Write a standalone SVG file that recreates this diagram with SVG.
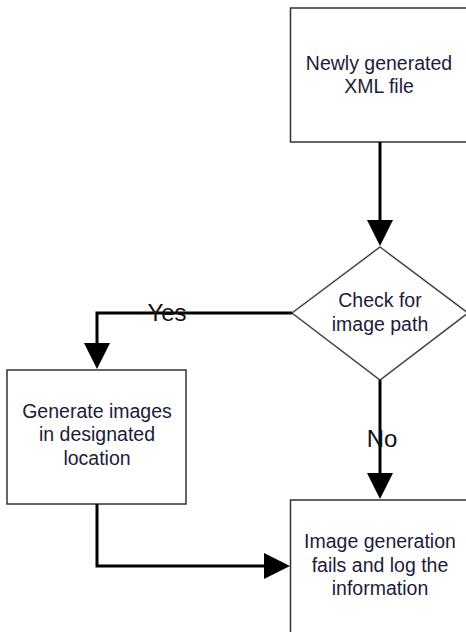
<svg xmlns="http://www.w3.org/2000/svg" width="466" height="632" viewBox="0 0 466 632">
<style>
.box{fill:#fff;stroke:#333;stroke-width:1.5}
.dia{fill:#fff;stroke:#444;stroke-width:1.5}
.t{font-family:"Liberation Sans",Arial,sans-serif;font-size:19.5px;fill:#1c1c3a;text-anchor:middle}
.lbl{font-family:"Liberation Sans",Arial,sans-serif;font-size:24px;fill:#111;text-anchor:middle}
.c{fill:none;stroke:#000;stroke-width:3}
</style>
<defs>
<marker id="ah" viewBox="0 0 26 26" markerWidth="26" markerHeight="26" refX="16" refY="13" orient="auto" markerUnits="userSpaceOnUse">
<path d="M0,0 L26,13 L0,26 z" fill="#000"/>
</marker>
</defs>
<rect width="466" height="632" fill="#fff"/>
<g id="n1">
<rect class="box" x="290.5" y="8" width="180" height="134"/>
<text class="t" x="379" y="70">Newly generated</text>
<text class="t" x="379" y="93">XML file</text>
</g>
<g id="n2">
<polygon class="dia" points="380,247 468,313 380,380 292,313"/>
<text class="t" x="380" y="307">Check for</text>
<text class="t" x="380" y="331">image path</text>
</g>
<g id="n3">
<rect class="box" x="7" y="370" width="179" height="134"/>
<text class="t" x="97" y="418">Generate images</text>
<text class="t" x="97" y="441">in designated</text>
<text class="t" x="97" y="465">location</text>
</g>
<g id="n4">
<rect class="box" x="290.5" y="500" width="180" height="140"/>
<text class="t" x="380" y="548">Image generation</text>
<text class="t" x="380" y="572">fails and log the</text>
<text class="t" x="380" y="595">information</text>
</g>
<g id="connectors">
<path class="c" d="M380,142 V236" marker-end="url(#ah)"/>
<path class="c" d="M292,313 H97 V359" marker-end="url(#ah)"/>
<path class="c" d="M380,380 V489" marker-end="url(#ah)"/>
<path class="c" d="M97,504 V566 H280" marker-end="url(#ah)"/>
<text class="lbl" x="167" y="321">Yes</text>
<text class="lbl" x="382" y="447">No</text>
</g>
</svg>
